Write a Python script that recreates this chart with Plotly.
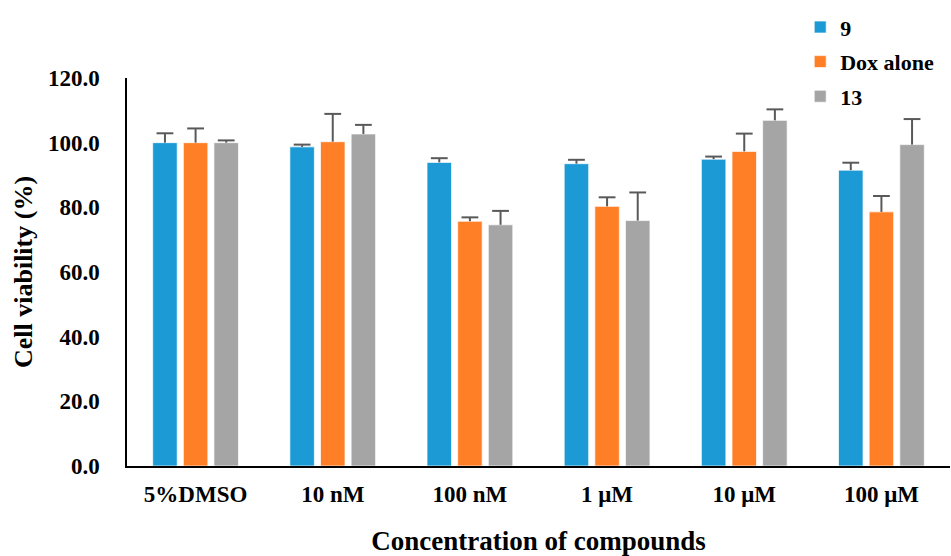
import plotly.graph_objects as go

categories = ["5%DMSO", "10 nM", "100 nM", "1 μM", "10 μM", "100 μM"]
series_names = ["9", "Dox alone", "13"]
vals_9 = [100.0, 98.7, 93.9, 93.5, 94.9, 91.5]
err_9 = [2.9, 0.7, 1.3, 1.2, 0.8, 2.3]
vals_dox = [100.0, 100.3, 75.7, 80.3, 97.3, 78.6]
err_dox = [4.4, 8.6, 1.2, 2.8, 5.5, 4.9]
vals_13 = [100.0, 102.7, 74.6, 75.9, 106.9, 99.4]
err_13 = [0.7, 2.8, 4.3, 8.7, 3.4, 7.9]
y_ticks = [0, 20, 40, 60, 80, 100, 120]

colors = ["#1C9AD6", "#FF7F27", "#A5A5A5"]
err_color = "#595959"
FONT = "Liberation Serif"

series = [(vals_9, err_9), (vals_dox, err_dox), (vals_13, err_13)]

fig = go.Figure()
for i, (name, (vals, errs)) in enumerate(zip(series_names, series)):
    fig.add_trace(go.Bar(
        x=categories, y=vals, name=name,
        offsetgroup=str(i), legendgroup=str(i),
        marker=dict(color=colors[i], line=dict(color="rgba(255,255,255,0.7)", width=1)),
        error_y=dict(type="data", symmetric=False, array=errs,
                     arrayminus=[0] * len(errs), width=0,
                     color=err_color, thickness=2),
    ))
for i, (vals, errs) in enumerate(series):
    fig.add_trace(go.Scatter(
        x=categories, y=[v + e for v, e in zip(vals, errs)],
        mode="markers", offsetgroup=str(i), showlegend=False, hoverinfo="skip",
        marker=dict(symbol="line-ew", size=12, color=err_color,
                    line=dict(color=err_color, width=2)),
    ))

fig.update_layout(
    width=951, height=556,
    margin=dict(l=127, r=1, t=78, b=90),
    paper_bgcolor="white", plot_bgcolor="white",
    barmode="group", bargap=0.33, bargroupgap=0.2,
    scattermode="group", scattergap=0.33,
    font=dict(family=FONT, size=22, color="black", weight="bold"),
    showlegend=True,
    legend=dict(x=0.818, y=1.185, xanchor="left", yanchor="top",
                font=dict(family=FONT, size=22, color="black", weight="bold"),
                tracegroupgap=3, bgcolor="rgba(0,0,0,0)"),
    xaxis=dict(
        showline=True, linecolor="black", linewidth=1.5, ticks="",
        showgrid=False, zeroline=False,
        tickfont=dict(family=FONT, size=23, color="black", weight="bold"),
        ticklabelstandoff=7,
        title=dict(text="Concentration of compounds", standoff=25,
                   font=dict(family=FONT, size=27, color="black", weight="bold")),
    ),
    yaxis=dict(
        range=[0, 120], tickvals=y_ticks, tickformat=".1f",
        showline=True, linecolor="black", linewidth=1.5, ticks="",
        showgrid=False, zeroline=False,
        tickfont=dict(family=FONT, size=23, color="black", weight="bold"),
        ticklabelstandoff=21,
        title=dict(text="Cell viability (%)", standoff=8,
                   font=dict(family=FONT, size=26, color="black", weight="bold")),
    ),
)

fig.write_html("out.html")
